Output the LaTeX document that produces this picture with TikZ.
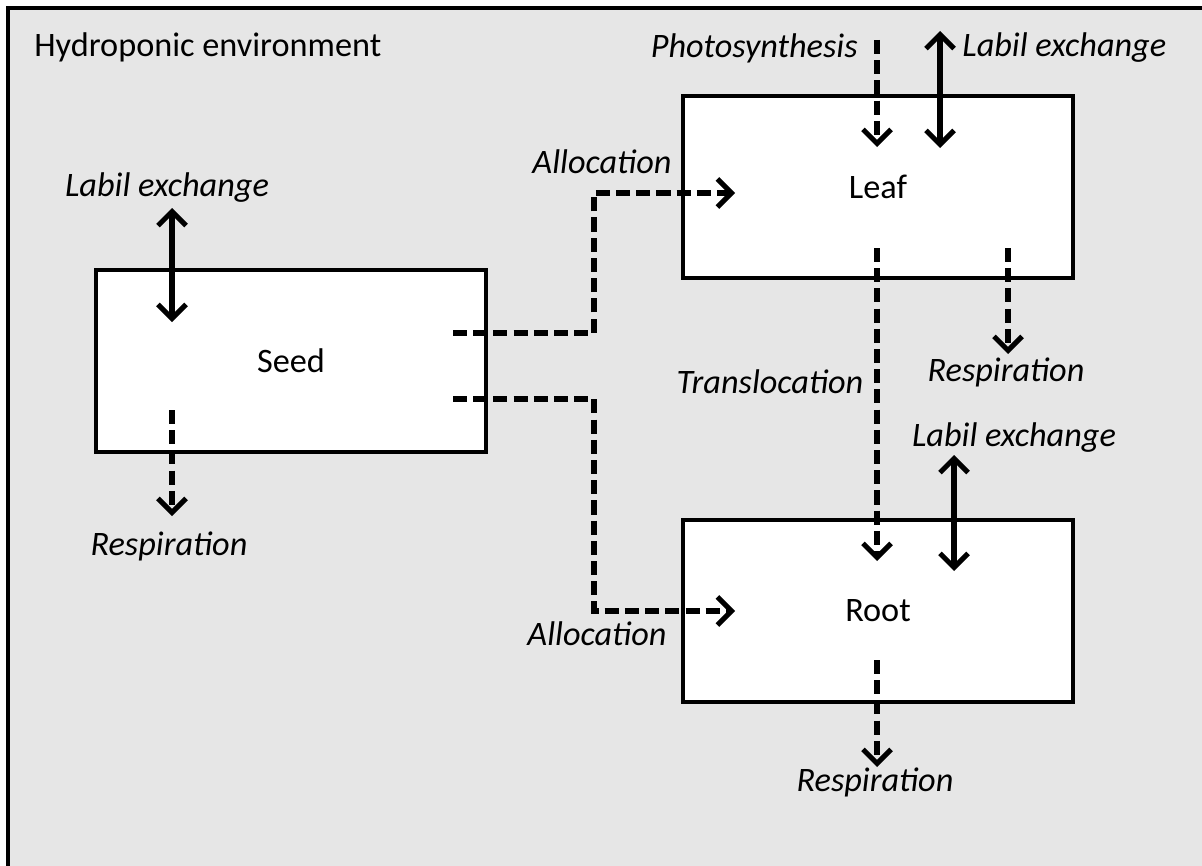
\documentclass[tikz,border=0pt]{standalone}
\usepackage{fontspec}
\setmainfont{Carlito}
\usepackage{xcolor}
\usepackage{tikz}
\usetikzlibrary{arrows.meta, positioning}
\definecolor{envgray}{HTML}{E6E6E6}

\begin{document}
\begin{tikzpicture}[x=0.02cm, y=0.02cm,
      pool/.style={draw, line width=2pt, fill=white, minimum width=7.8cm, minimum height=3.65cm, font=\fontsize{19.5}{23}\selectfont},
      lbl/.style={font=\fontsize{19.5}{23}\selectfont\itshape, inner sep=0pt},
      flux/.style={line width=2.9pt, -{Straight Barb[length=8pt, width=16pt]}},
      dflux/.style={flux, dash pattern=on 8pt off 3.5pt},
      xchg/.style={line width=2.9pt, {Straight Barb[length=8pt, width=16pt]}-{Straight Barb[length=8pt, width=16pt]}}
    ]
      \useasboundingbox (0,0) rectangle (1202,-865);
      % environment frame (cut off on the right and at the bottom)
      \fill[envgray] (8,-8) rectangle (1220,-880);
      \draw[line width=2.6pt] (8,-880) -- (8,-8) -- (1220,-8);
      \node[lbl, font=\fontsize{19.5}{23}\selectfont, anchor=west] (env) at (34,-47) {Hydroponic environment};

      % pools
      \node[pool] (seed) at (291,-361) {Seed};
      \node[pool] (leaf) at (878,-187) {Leaf};
      \node[pool] (root) at (878,-611) {Root};

      % end points of the fluxes
      \coordinate (sx1) at (172,-208);
      \coordinate (sx2) at (172,-322);
      \coordinate (sr1) at (172,-410);
      \coordinate (sr2) at (172,-516);
      \coordinate (sa1) at (453,-333);
      \coordinate (sb1) at (453,-399);
      \coordinate (la) at (735,-193);
      \coordinate (ra) at (735,-611);
      \coordinate (lp1) at (877,-40);
      \coordinate (lp2) at (877,-147);
      \coordinate (lx1) at (940,-31);
      \coordinate (lx2) at (940,-148);
      \coordinate (lr1) at (1008,-248);
      \coordinate (lr2) at (1008,-354);
      \coordinate (lt1) at (877,-248);
      \coordinate (lt2) at (877,-561);
      \coordinate (rx1) at (954,-455);
      \coordinate (rx2) at (954,-571);
      \coordinate (rr1) at (877,-660);
      \coordinate (rr2) at (877,-767);

      % seed
      \draw[xchg] (sx1) -- (sx2);
      \draw[dflux] (sr1) -- (sr2);
      \node[lbl] (sxl) at (167,-188) {Labil exchange};
      \node[lbl] (srl) at (169,-546) {Respiration};

      % allocation
      \draw[dflux] (sa1) -- ++(141,0) |- (la);
      \draw[dflux] (sb1) -- ++(141,0) |- (ra);
      \node[lbl] (al1) at (602,-162) {Allocation};
      \node[lbl] (al2) at (597,-634) {Allocation};

      % leaf
      \draw[dflux] (lp1) -- (lp2);
      \draw[xchg] (lx1) -- (lx2);
      \draw[dflux] (lr1) -- (lr2);
      \draw[dflux] (lt1) -- (lt2);
      \node[lbl, anchor=east] (lpl) at (858,-48) {Photosynthesis};
      \node[lbl, anchor=west] (lxl) at (962,-48) {Labil exchange};
      \node[lbl] (lrl) at (1006,-372) {Respiration};
      \node[lbl] (ltl) at (770,-382) {Translocation};

      % root
      \draw[xchg] (rx1) -- (rx2);
      \draw[dflux] (rr1) -- (rr2);
      \node[lbl] (rxl) at (1014,-438) {Labil exchange};
      \node[lbl] (rrl) at (875,-782) {Respiration};
    \end{tikzpicture}
\end{document}
